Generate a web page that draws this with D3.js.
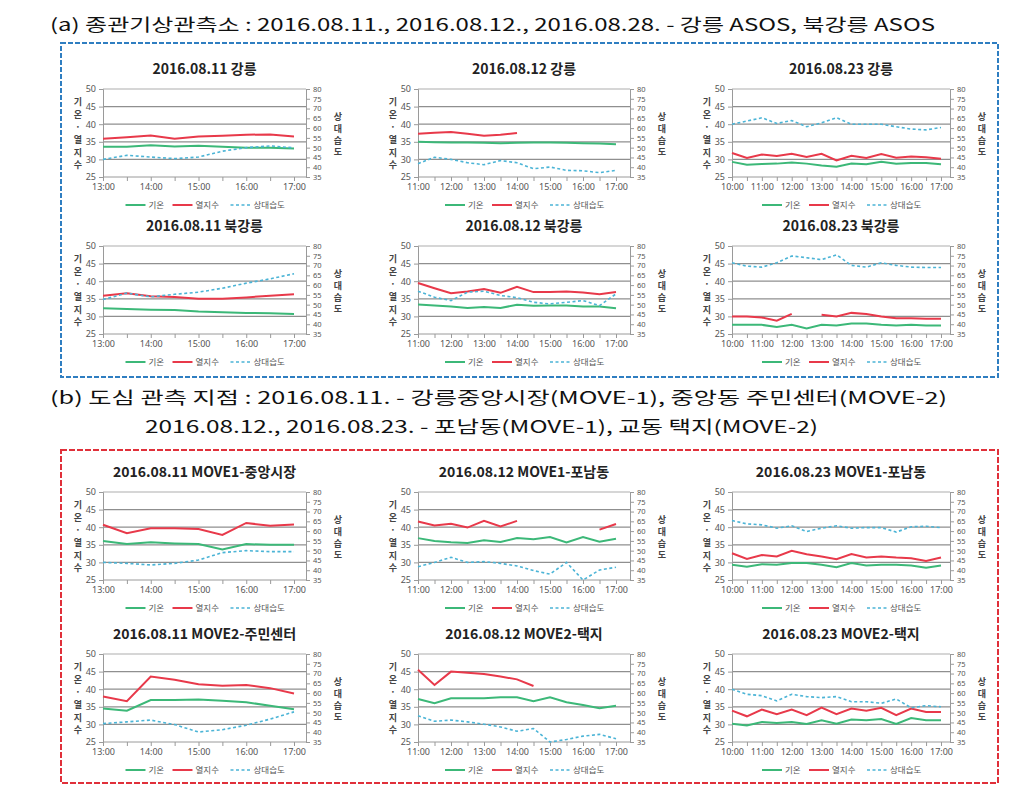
<!DOCTYPE html>
<html>
<head>
<meta charset="utf-8" />
<title></title>
<style>
html, body {
    padding: 0px;
    margin: 0px;
    background: #fff;
}
svg text {
    font-family: "Noto Sans CJK KR", "Noto Sans", sans-serif;
}
</style>
</head>
<body>
<svg id="chart" width="1032" height="801"></svg>

<script src="https://cdnjs.cloudflare.com/ajax/libs/d3/7.8.5/d3.min.js"></script>
<script>
// time categories (hours)
var hours13 = [13, 13.5, 14, 14.5, 15, 15.5, 16, 16.5, 17];
var hours11 = [11, 11.5, 12, 12.5, 13, 13.5, 14, 14.5, 15, 15.5, 16, 16.5, 17];
var hours10 = [10, 10.5, 11, 11.5, 12, 12.5, 13, 13.5, 14, 14.5, 15, 15.5, 16, 16.5, 17];

var ticks13 = ["13:00", "14:00", "15:00", "16:00", "17:00"];
var ticks11 = ["11:00", "12:00", "13:00", "14:00", "15:00", "16:00", "17:00"];
var ticks10 = ["10:00", "11:00", "12:00", "13:00", "14:00", "15:00", "16:00", "17:00"];

var leftTicks = [25, 30, 35, 40, 45, 50];
var rightTicks = [35, 40, 45, 50, 55, 60, 65, 70, 75, 80];

var seriesNames = ["기온", "열지수", "상대습도"];

// (a) 강릉 ASOS
var temp_0811_gn = [33.6, 33.6, 34.0, 33.7, 33.9, 33.6, 33.3, 33.3, 33.1];
var heat_0811_gn = [35.9, 36.3, 36.8, 35.9, 36.5, 36.7, 37.0, 37.1, 36.5];
var rh_0811_gn   = [44.0, 46.1, 45.2, 44.4, 45.2, 48.2, 50.0, 50.9, 49.9];

var temp_0812_gn = [35.0, 34.9, 34.8, 34.8, 34.7, 34.6, 34.7, 34.8, 34.8, 34.7, 34.6, 34.5, 34.3];
var heat_0812_gn = [37.3, 37.6, 37.8, 37.3, 36.7, 37.0, 37.5, null, null, null, null, null, null];
var rh_0812_gn   = [41.8, 45.1, 44.0, 42.3, 41.3, 43.4, 42.3, 39.2, 40.1, 38.4, 38.2, 37.2, 38.4];

var temp_0823_gn = [29.3, 28.5, 28.7, 28.8, 29.1, 28.8, 28.3, 27.9, 28.8, 28.6, 29.3, 28.8, 29.0, 29.0, 28.6];
var heat_0823_gn = [31.8, 30.4, 31.4, 31.0, 31.6, 30.7, 31.6, 29.7, 31.0, 30.4, 31.5, 30.5, 30.8, 30.6, 30.2];
var rh_0823_gn   = [62.0, 63.6, 65.3, 62.4, 63.9, 60.7, 62.7, 65.3, 62.0, 62.0, 62.0, 60.7, 59.5, 59.1, 60.3];

// (a) 북강릉 ASOS
var temp_0811_bg = [32.3, 32.1, 31.9, 31.8, 31.4, 31.2, 31.0, 30.9, 30.7];
var heat_0811_bg = [35.9, 36.6, 35.7, 35.5, 35.0, 35.0, 35.4, 35.9, 36.3];
var rh_0811_bg   = [52.6, 55.9, 54.0, 55.3, 56.4, 58.4, 61.0, 63.2, 65.8];

var temp_0812_bg = [33.4, 33.1, 32.8, 32.4, 32.7, 32.4, 33.3, 33.0, 33.1, 33.1, 32.8, 32.8, 32.3];
var heat_0812_bg = [39.5, 38.0, 36.6, 37.1, 37.8, 36.7, 38.4, 36.9, 36.9, 37.1, 36.8, 36.3, 36.9];
var rh_0812_bg   = [56.9, 53.8, 52.1, 56.4, 56.9, 54.7, 53.6, 51.2, 50.4, 51.2, 52.1, 49.5, 55.5];

var temp_0823_bg = [27.6, 27.6, 27.6, 27.0, 27.6, 26.6, 27.6, 27.4, 28.0, 28.0, 27.6, 27.4, 27.6, 27.4, 27.4];
var heat_0823_bg = [30.0, 30.0, 29.7, 28.8, 30.7, null, 30.5, 30.0, 31.0, 30.7, 30.0, 29.5, 29.5, 29.3, 29.3];
var rh_0823_bg   = [71.4, 69.7, 69.2, 71.4, 74.9, 74.0, 73.0, 75.5, 70.1, 69.2, 71.4, 70.1, 69.2, 69.0, 69.0];

// (b) MOVE-1
var temp_0811_m1 = [36.1, 35.2, 35.7, 35.4, 35.2, 33.7, 35.2, 35.0, 35.0];
var heat_0811_m1 = [40.7, 38.3, 39.7, 39.7, 39.5, 37.8, 41.2, 40.4, 40.8];
var rh_0811_m1   = [44.0, 43.5, 42.7, 43.5, 45.2, 49.0, 50.0, 49.5, 49.5];

var temp_0812_m1 = [36.9, 36.1, 35.7, 35.5, 36.3, 35.8, 36.9, 36.6, 37.2, 35.7, 37.2, 35.9, 36.7];
var heat_0812_m1 = [41.6, 40.5, 41.0, 39.9, 41.8, 40.2, 41.8, null, null, null, null, 39.3, 40.9];
var rh_0812_m1   = [41.8, 44.0, 46.6, 44.0, 44.4, 43.5, 42.2, 39.8, 38.0, 44.0, 35.0, 40.1, 41.5];

var temp_0823_m1 = [29.3, 28.8, 29.5, 29.3, 29.8, 29.8, 29.3, 28.6, 29.8, 29.1, 29.3, 29.3, 29.1, 28.5, 29.1];
var heat_0823_m1 = [32.6, 31.0, 32.1, 31.7, 33.3, 32.3, 31.7, 30.9, 32.4, 31.4, 31.7, 31.4, 31.2, 30.4, 31.4];
var rh_0823_m1   = [65.4, 63.7, 63.2, 61.5, 62.7, 59.8, 61.5, 62.7, 61.5, 61.8, 61.8, 59.5, 62.2, 62.5, 61.8];

// (b) MOVE-2
var temp_0811_m2 = [34.5, 33.9, 36.9, 36.9, 37.1, 36.7, 36.3, 35.3, 34.3];
var heat_0811_m2 = [37.9, 36.6, 43.6, 42.7, 41.4, 41.0, 41.2, 40.3, 38.8];
var rh_0811_m2   = [44.4, 45.3, 46.2, 43.9, 40.1, 41.3, 43.6, 46.7, 50.4];

var temp_0812_m2 = [37.2, 36.0, 37.4, 37.4, 37.4, 37.7, 37.7, 36.6, 37.7, 36.3, 35.5, 34.6, 35.3];
var heat_0812_m2 = [45.5, 41.2, 45.0, 44.7, 44.3, 43.6, 42.8, 40.9, null, null, null, null, null];
var rh_0812_m2   = [48.4, 45.6, 46.2, 45.3, 44.1, 42.7, 40.5, 41.9, 35.0, 36.3, 38.0, 38.9, 36.7];

var temp_0823_m2 = [30.2, 29.7, 30.7, 30.4, 30.7, 30.1, 31.2, 30.2, 31.4, 31.2, 31.5, 30.1, 31.8, 31.2, 31.2];
var heat_0823_m2 = [33.9, 32.3, 34.2, 32.9, 34.2, 32.6, 34.8, 32.9, 34.5, 33.9, 34.7, 32.6, 34.5, 33.5, 33.5];
var rh_0823_m2   = [62.0, 59.4, 58.7, 56.0, 59.4, 58.2, 57.7, 58.2, 55.6, 55.6, 54.8, 57.0, 52.5, 53.6, 53.0];

!(function(){
    "use strict";

    var svg = d3.select("#chart");

    var colors = ["#3cb878", "#e8394a", "#4bb4d6"];

    // layout of the 3 x 4 grid
    var colX = [103, 418, 732];
    var colW = [203, 212, 218];
    var colPad = [12, 14, 9];
    var rowY = [89, 246, 492, 654];
    var plotH = 88;

    var panels = [
        {title: "2016.08.11 강릉", hours: hours13, ticks: ticks13, s: [temp_0811_gn, heat_0811_gn, rh_0811_gn]},
        {title: "2016.08.12 강릉", hours: hours11, ticks: ticks11, s: [temp_0812_gn, heat_0812_gn, rh_0812_gn]},
        {title: "2016.08.23 강릉", hours: hours10, ticks: ticks10, s: [temp_0823_gn, heat_0823_gn, rh_0823_gn]},
        {title: "2016.08.11 북강릉", hours: hours13, ticks: ticks13, s: [temp_0811_bg, heat_0811_bg, rh_0811_bg]},
        {title: "2016.08.12 북강릉", hours: hours11, ticks: ticks11, s: [temp_0812_bg, heat_0812_bg, rh_0812_bg]},
        {title: "2016.08.23 북강릉", hours: hours10, ticks: ticks10, s: [temp_0823_bg, heat_0823_bg, rh_0823_bg]},
        {title: "2016.08.11 MOVE1-중앙시장", hours: hours13, ticks: ticks13, s: [temp_0811_m1, heat_0811_m1, rh_0811_m1]},
        {title: "2016.08.12 MOVE1-포남동", hours: hours11, ticks: ticks11, s: [temp_0812_m1, heat_0812_m1, rh_0812_m1]},
        {title: "2016.08.23 MOVE1-포남동", hours: hours10, ticks: ticks10, s: [temp_0823_m1, heat_0823_m1, rh_0823_m1]},
        {title: "2016.08.11 MOVE2-주민센터", hours: hours13, ticks: ticks13, s: [temp_0811_m2, heat_0811_m2, rh_0811_m2]},
        {title: "2016.08.12 MOVE2-택지", hours: hours11, ticks: ticks11, s: [temp_0812_m2, heat_0812_m2, rh_0812_m2]},
        {title: "2016.08.23 MOVE2-택지", hours: hours10, ticks: ticks10, s: [temp_0823_m2, heat_0823_m2, rh_0823_m2]}
    ];

    // section headings and boxes
    svg.append("text").attr("x", 50).attr("y", 25).attr("dy", "0.35em")
        .attr("font-size", 17).attr("fill", "#111")
        .attr("textLength", 885).attr("lengthAdjust", "spacingAndGlyphs")
        .text("(a) 종관기상관측소 : 2016.08.11., 2016.08.12., 2016.08.28. - 강릉 ASOS, 북강릉 ASOS");

    svg.append("text").attr("x", 50).attr("y", 398).attr("dy", "0.35em")
        .attr("font-size", 17).attr("fill", "#111")
        .attr("textLength", 897).attr("lengthAdjust", "spacingAndGlyphs")
        .text("(b) 도심 관측 지점 : 2016.08.11. - 강릉중앙시장(MOVE-1), 중앙동 주민센터(MOVE-2)");

    svg.append("text").attr("x", 145).attr("y", 427).attr("dy", "0.35em")
        .attr("font-size", 17).attr("fill", "#111")
        .attr("textLength", 673).attr("lengthAdjust", "spacingAndGlyphs")
        .text("2016.08.12., 2016.08.23. - 포남동(MOVE-1), 교동 택지(MOVE-2)");

    svg.append("rect").attr("x", 61).attr("y", 43).attr("width", 937).attr("height", 334)
        .attr("fill", "none").attr("stroke", "#2f7ec1").attr("stroke-width", 2)
        .attr("stroke-dasharray", "5,2");

    svg.append("rect").attr("x", 61).attr("y", 450).attr("width", 937).attr("height", 333)
        .attr("fill", "none").attr("stroke", "#e0303a").attr("stroke-width", 2)
        .attr("stroke-dasharray", "6,2");

    panels.forEach(function(p, i) {
        var col = i % 3, row = Math.floor(i / 3);
        var left = colX[col], top = rowY[row];
        var right = left + colW[col], bottom = top + plotH;
        var cx = (left + right) / 2;

        var x = d3.scaleLinear()
            .domain([p.hours[0], p.hours[p.hours.length - 1]])
            .range([left, right - colPad[col]]);
        var yL = d3.scaleLinear().domain([25, 50]).range([bottom, top]);
        var yR = d3.scaleLinear().domain([35, 80]).range([bottom, top]);

        var g = svg.append("g");

        // gridlines
        g.selectAll(".grid").data(leftTicks.slice(1))
            .enter().append("line")
            .attr("x1", left).attr("x2", right)
            .attr("y1", function(d) { return yL(d); })
            .attr("y2", function(d) { return yL(d); })
            .attr("stroke", function(d) { return d === 50 ? "#c8c8c8" : "#8f8f8f"; })
            .attr("stroke-width", 1.3);

        // left axis
        var axL = g.append("g").attr("transform", "translate(" + left + ",0)")
            .call(d3.axisLeft(yL).tickValues(leftTicks).tickSize(4).tickPadding(3));
        // right axis
        var axR = g.append("g").attr("transform", "translate(" + right + ",0)")
            .call(d3.axisRight(yR).tickValues(rightTicks).tickSize(4).tickPadding(3));
        // bottom axis
        var axB = g.append("g").attr("transform", "translate(0," + bottom + ")")
            .call(d3.axisBottom(x).tickValues(p.hours).tickSize(4).tickPadding(3)
                .tickFormat(function(d) { return d % 1 === 0 ? (d + ":00") : ""; }));
        axB.select(".domain").attr("d", "M" + left + ",0H" + right);

        [axL, axR, axB].forEach(function(a) {
            a.selectAll(".domain, line").attr("stroke", "#9a9a9a");
            a.selectAll("text").attr("font-size", 9).attr("fill", "#555")
                .style("font-family", "'Noto Sans', 'DejaVu Sans', sans-serif");
        });
        axR.selectAll("text").attr("font-size", 7.5);

        // lines
        p.s.forEach(function(vals, k) {
            var yy = k === 2 ? yR : yL;
            var line = d3.line()
                .defined(function(d) { return d != null; })
                .x(function(d, j) { return x(p.hours[j]); })
                .y(function(d) { return yy(d); });
            g.append("path").datum(vals)
                .attr("d", line)
                .attr("fill", "none")
                .attr("stroke", colors[k])
                .attr("stroke-width", k === 2 ? 1.6 : 2)
                .attr("stroke-dasharray", k === 2 ? "3,2.5" : null);
        });

        // title
        g.append("text").attr("x", cx).attr("y", top - 20).attr("dy", "0.35em")
            .attr("text-anchor", "middle").attr("font-size", 14).attr("font-weight", 700)
            .attr("fill", "#222").text(p.title);

        // axis titles, stacked vertically
        var leftChars = ["기", "온", "·", "열", "지", "수"];
        leftChars.forEach(function(c, j) {
            g.append("text").attr("x", left - 25).attr("y", top + 13 + j * 12.6).attr("dy", "0.35em")
                .attr("text-anchor", "middle").attr("font-size", 9).attr("font-weight", 700)
                .attr("fill", "#444").text(c);
        });
        var rightChars = ["상", "대", "습", "도"];
        rightChars.forEach(function(c, j) {
            g.append("text").attr("x", right + 32).attr("y", top + 28 + j * 11.7).attr("dy", "0.35em")
                .attr("text-anchor", "middle").attr("font-size", 9).attr("font-weight", 700)
                .attr("fill", "#444").text(c);
        });

        // legend
        var ly = bottom + 28;
        var offs = [-79, -32, 26];
        seriesNames.forEach(function(n, k) {
            var lx = cx + offs[k];
            g.append("line").attr("x1", lx).attr("x2", lx + 20).attr("y1", ly).attr("y2", ly)
                .attr("stroke", colors[k]).attr("stroke-width", k === 2 ? 1.6 : 2)
                .attr("stroke-dasharray", k === 2 ? "3,2.5" : null);
            g.append("text").attr("x", lx + 23).attr("y", ly).attr("dy", "0.35em")
                .attr("font-size", 8.5).attr("fill", "#555").text(n);
        });
    });

}());
</script>
</body>
</html>
